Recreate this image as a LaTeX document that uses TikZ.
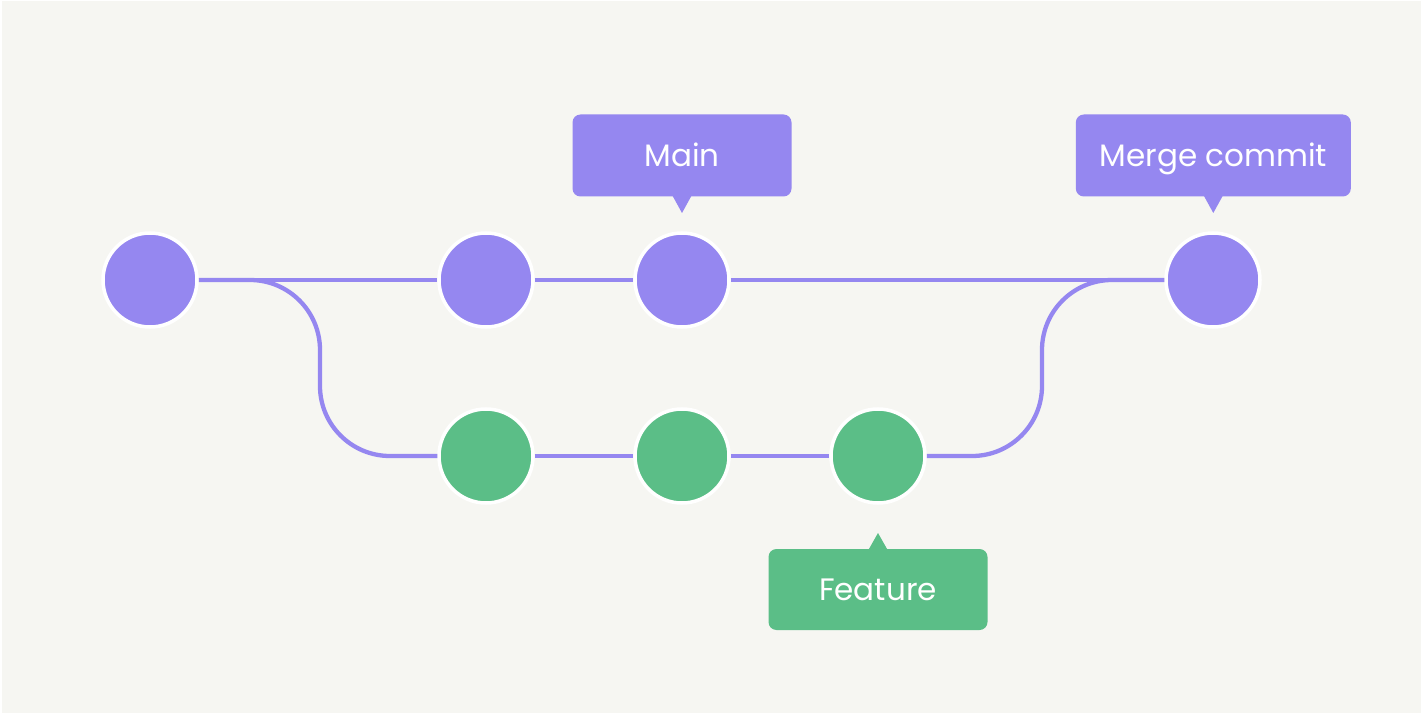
\documentclass[tikz,border=0pt]{standalone}
\usepackage{fontspec}
\setmainfont{Poppins}
\definecolor{bg}{HTML}{F6F6F2}
\definecolor{purp}{HTML}{9587F0}
\definecolor{grn}{HTML}{5BBE87}
\begin{document}
\begin{tikzpicture}[x=1pt,y=-1pt,
  commit/.style={circle,draw=white,line width=3.5pt,minimum size=94pt,inner sep=0pt},
  mainc/.style={commit,fill=purp},
  featc/.style={commit,fill=grn},
  link/.style={draw=purp,line width=4.3pt},
  tip/.style={rectangle,rounded corners=8pt,minimum height=82pt,inner sep=0pt,text=white,
    text height=21.5pt,text depth=0pt,font=\fontsize{31}{37}\selectfont},
]
\useasboundingbox (0,0) rectangle (1422,714);
\fill[white] (0,0) rectangle (1422,714);
\fill[bg] (1.5,1.5) rectangle (1420.5,712.5);

% route corners
\coordinate (k1) at (320,280);
\coordinate (k2) at (320,456);
\coordinate (k3) at (1042,456);
\coordinate (k4) at (1042,280);

% commits
\node[mainc] (c1) at (150,280) {};
\node[mainc] (c2) at (486,280) {};
\node[mainc] (c3) at (682,280) {};
\node[mainc] (c4) at (1213,280) {};
\node[featc] (f1) at (486,456) {};
\node[featc] (f2) at (682,456) {};
\node[featc] (f3) at (878,456) {};

% connectors
\path[link] (c1) -- (c2);
\path[link] (c2) -- (c3);
\path[link] (c3) -- (c4);
\path[link] (f1) -- (f2);
\path[link] (f2) -- (f3);
\path[link,rounded corners=70pt] (c1.east) -- (k1) -- (k2) -- (f1.west);
\path[link,rounded corners=70pt] (f3.east) -- (k3) -- (k4) -- (c4.west);

% labels
\node[tip,fill=purp,minimum width=219pt] (lmain) at (682,155.5) {Main};
\coordinate (tmain) at (682,213);
\fill[purp] ([xshift=-9.5pt,yshift=1pt]lmain.south) -- (tmain) -- ([xshift=9.5pt,yshift=1pt]lmain.south) -- cycle;

\node[tip,fill=purp,minimum width=275pt] (lmerge) at (1213.3,155.5) {Merge commit};
\coordinate (tmerge) at (1213.3,213);
\fill[purp] ([xshift=-9.5pt,yshift=1pt]lmerge.south) -- (tmerge) -- ([xshift=9.5pt,yshift=1pt]lmerge.south) -- cycle;

\node[tip,fill=grn,minimum width=219pt,minimum height=81pt] (lfeat) at (878,589.5) {Feature};
\coordinate (tfeat) at (878,533);
\fill[grn] ([xshift=-9.5pt,yshift=-1pt]lfeat.north) -- (tfeat) -- ([xshift=9.5pt,yshift=-1pt]lfeat.north) -- cycle;
\end{tikzpicture}
\end{document}
